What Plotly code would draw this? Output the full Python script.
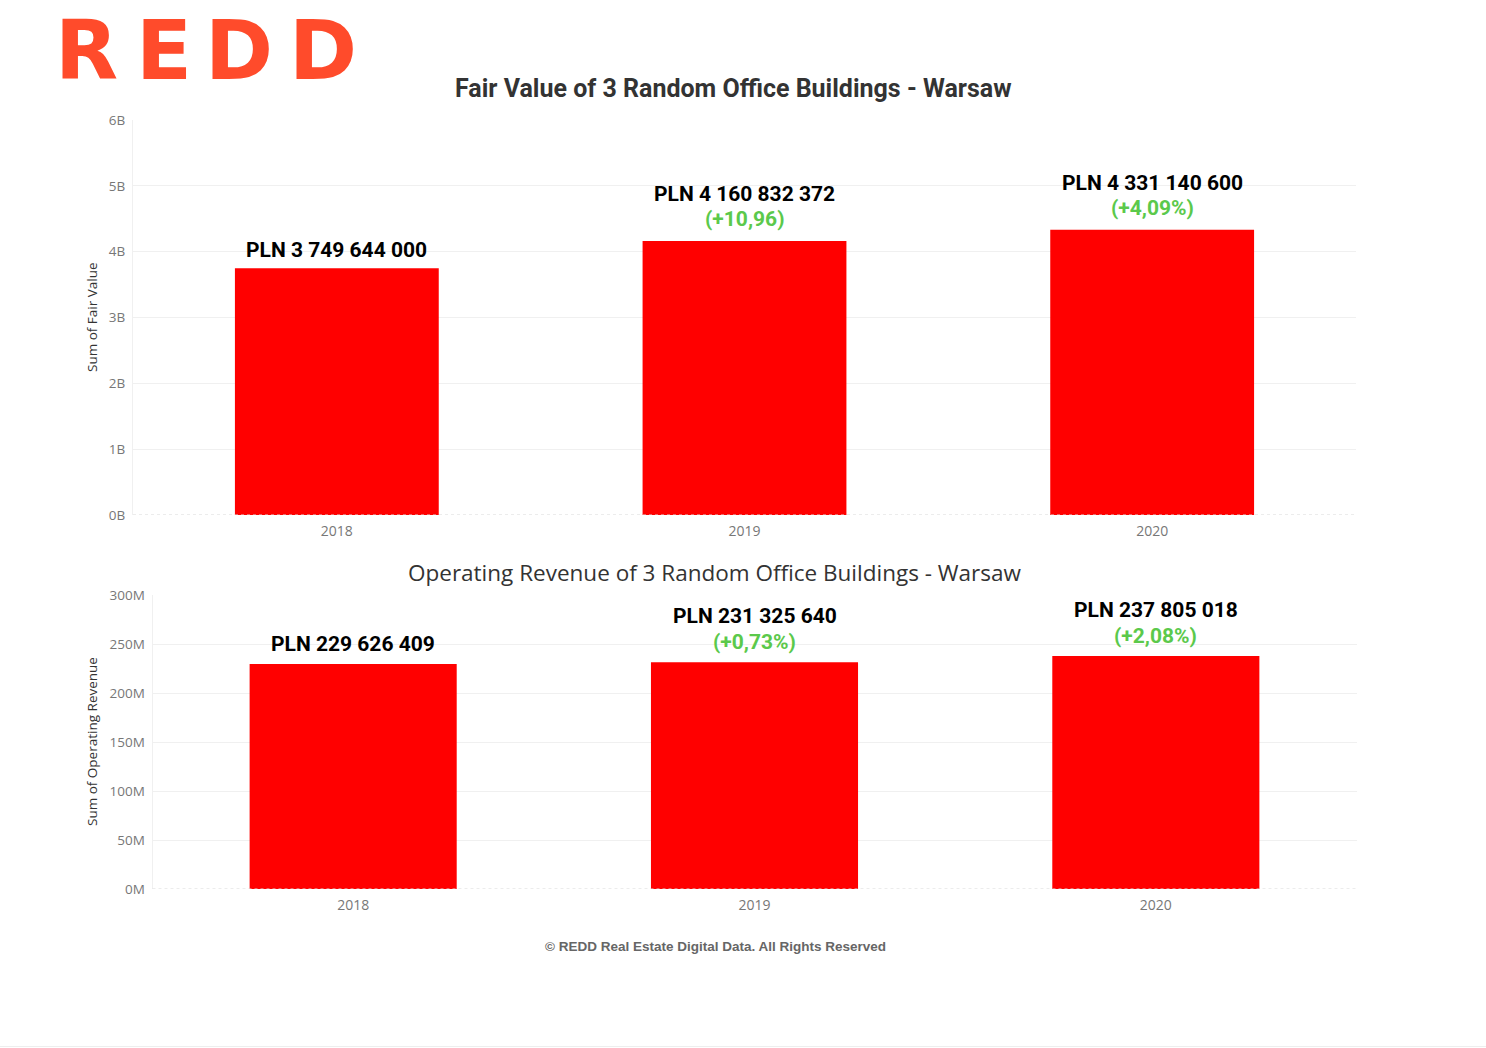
import plotly.graph_objects as go

W, H = 1486, 1048

years = ["2018", "2019", "2020"]
fair_value = [3749644000, 4160832372, 4331140600]
fair_labels = ["PLN 3 749 644 000", "PLN 4 160 832 372", "PLN 4 331 140 600"]
fair_change = ["", "(+10,96)", "(+4,09%)"]
fv_tickvals = [0, 1e9, 2e9, 3e9, 4e9, 5e9, 6e9]
fv_ticktext = ["0B", "1B", "2B", "3B", "4B", "5B", "6B"]

op_revenue = [229626409, 231325640, 237805018]
op_labels = ["PLN 229 626 409", "PLN 231 325 640", "PLN 237 805 018"]
op_change = ["", "(+0,73%)", "(+2,08%)"]
or_tickvals = [0, 50e6, 100e6, 150e6, 200e6, 250e6, 300e6]
or_ticktext = ["0M", "50M", "100M", "150M", "200M", "250M", "300M"]

RED = "#FF0000"
GREEN = "#5BC94B"
GRID = "#f0f0f0"
TICK = "#777777"

def px_x(x):
    return x / W

def px_y(y):
    return 1 - y / H

fig = go.Figure()
fig.add_trace(go.Bar(x=years, y=fair_value, marker_color=RED, width=0.5,
                     marker_line_width=0, xaxis="x", yaxis="y", hoverinfo="skip"))
fig.add_trace(go.Bar(x=years, y=op_revenue, marker_color=RED, width=0.516,
                     marker_line_width=0, xaxis="x2", yaxis="y2", hoverinfo="skip"))

tickfont = dict(family="Open Sans", size=13.5, color=TICK)
xtickfont = dict(family="Open Sans", size=14, color=TICK)

fig.update_layout(
    width=W, height=H, margin=dict(l=0, r=0, t=0, b=0, autoexpand=False),
    paper_bgcolor="white", plot_bgcolor="white", showlegend=False,
    xaxis=dict(type="category", range=[-0.5, 2.5], domain=[px_x(133), px_x(1356)], anchor="y",
               tickfont=xtickfont, showgrid=False, ticks="", showline=False, automargin=False,
               ticklabelstandoff=6),
    yaxis=dict(domain=[px_y(515), px_y(120)], anchor="x", range=[0, 6e9],
               tickvals=fv_tickvals, ticktext=fv_ticktext, tickfont=tickfont,
               gridcolor=GRID, gridwidth=1, zeroline=False, showline=True,
               linecolor=GRID, ticklabelstandoff=4, automargin=False),
    xaxis2=dict(type="category", range=[-0.5, 2.5], domain=[px_x(152.5), px_x(1356.5)], anchor="y2",
                tickfont=xtickfont, showgrid=False, ticks="", showline=False, automargin=False,
                ticklabelstandoff=6),
    yaxis2=dict(domain=[px_y(889), px_y(595)], anchor="x2", range=[0, 3e8],
                tickvals=or_tickvals, ticktext=or_ticktext, tickfont=tickfont,
                gridcolor=GRID, gridwidth=1, zeroline=False, showline=True,
                linecolor=GRID, ticklabelstandoff=4, automargin=False),
)

# dotted baselines
fig.add_shape(type="line", xref="x domain", yref="y", x0=0, x1=1, y0=0, y1=0,
              line=dict(color="#d8d8d8", width=1, dash="dot"))
fig.add_shape(type="line", xref="x2 domain", yref="y2", x0=0, x1=1, y0=0, y1=0,
              line=dict(color="#d8d8d8", width=1, dash="dot"))
# faint page bottom border
fig.add_shape(type="line", xref="paper", yref="paper", x0=0, x1=1,
              y0=px_y(1046.5), y1=px_y(1046.5), line=dict(color="#eeeeee", width=1))

ann = []
labfont = dict(family="Roboto", size=21, color="black", weight="bold")
grfont = dict(family="Roboto", size=21, color=GREEN, weight="bold")
for i in range(len(years)):
    if fair_change[i]:
        ann.append(dict(x=i, y=fair_value[i], xref="x", yref="y", text=fair_labels[i],
                        showarrow=False, font=labfont, yanchor="middle", yshift=47))
        ann.append(dict(x=i, y=fair_value[i], xref="x", yref="y", text=fair_change[i],
                        showarrow=False, font=grfont, yanchor="middle", yshift=22))
    else:
        ann.append(dict(x=i, y=fair_value[i], xref="x", yref="y", text=fair_labels[i],
                        showarrow=False, font=labfont, yanchor="middle", yshift=18))
    if op_change[i]:
        ann.append(dict(x=i, y=op_revenue[i], xref="x2", yref="y2", text=op_labels[i],
                        showarrow=False, font=labfont, yanchor="middle", yshift=46))
        ann.append(dict(x=i, y=op_revenue[i], xref="x2", yref="y2", text=op_change[i],
                        showarrow=False, font=grfont, yanchor="middle", yshift=20))
    else:
        ann.append(dict(x=i, y=op_revenue[i], xref="x2", yref="y2", text=op_labels[i],
                        showarrow=False, font=labfont, yanchor="middle", yshift=20))

# titles
ann.append(dict(x=px_x(733), y=px_y(89), xref="paper", yref="paper",
                text="Fair Value of 3 Random Office Buildings - Warsaw", showarrow=False,
                font=dict(family="Roboto", size=25, color="#333333", weight="bold"),
                xanchor="center", yanchor="middle"))
ann.append(dict(x=px_x(715), y=px_y(572), xref="paper", yref="paper",
                text="Operating Revenue of 3 Random Office Buildings - Warsaw", showarrow=False,
                font=dict(family="Open Sans", size=22.5, color="#333333"),
                xanchor="center", yanchor="middle"))
# axis titles
ann.append(dict(x=px_x(92), y=px_y(317), xref="paper", yref="paper",
                text="Sum of Fair Value", showarrow=False, textangle=-90,
                font=dict(family="Open Sans", size=13.5, color="#333333"),
                xanchor="center", yanchor="middle"))
ann.append(dict(x=px_x(92), y=px_y(742), xref="paper", yref="paper",
                text="Sum of Operating Revenue", showarrow=False, textangle=-90,
                font=dict(family="Open Sans", size=13.5, color="#333333"),
                xanchor="center", yanchor="middle"))
# footer
ann.append(dict(x=px_x(715), y=px_y(946), xref="paper", yref="paper",
                text="© REDD Real Estate Digital Data. All Rights Reserved", showarrow=False,
                font=dict(family="Liberation Sans", size=13.5, color="#666666", weight="bold"),
                xanchor="center", yanchor="middle"))
# logo letters
logo_letters = ["R", "E", "D", "D"]
logo_centers = [86, 164, 239, 323]
for L, cx in zip(logo_letters, logo_centers):
    ann.append(dict(x=px_x(cx), y=1, xref="paper", yref="paper", text=L,
                    showarrow=False, borderpad=0, yshift=-2,
                    font=dict(family="DejaVu Sans", size=82, color="#FF4B2B", weight="bold"),
                    xanchor="center", yanchor="top"))

fig.update_layout(annotations=ann)
fig.write_html("out.html")
